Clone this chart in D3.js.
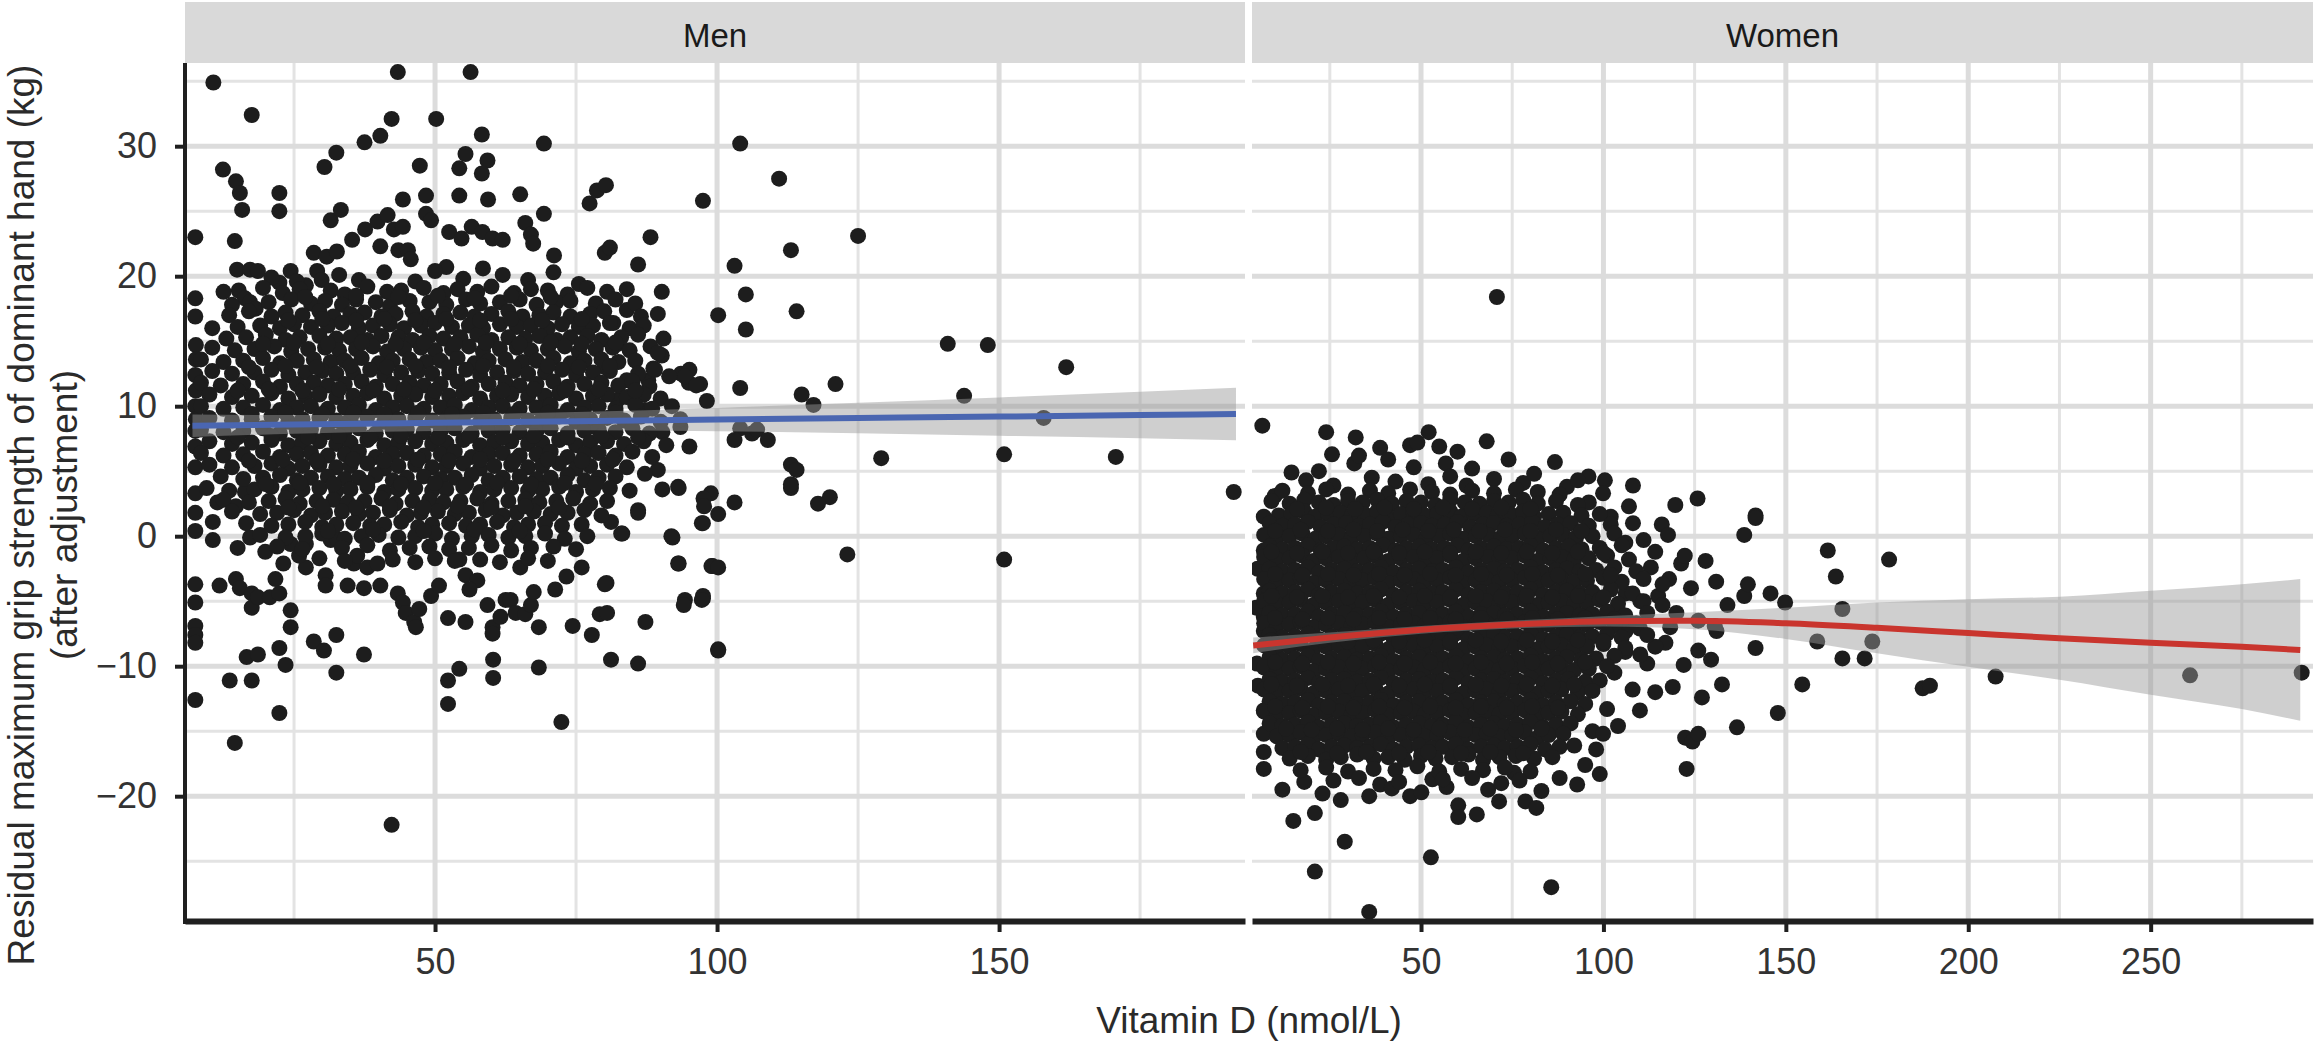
<html>
<head>
<script src="https://d3js.org/d3.v7.min.js"></script>
<style>
body { margin: 0; background: #fff; }
text { font-family: "Liberation Sans", Arial, Helvetica, sans-serif; }
</style>
</head>
<body>
<script>
// ---- data ----
const panelNames = ["Men", "Women"];
const menTicks = [50, 100, 150];
const menMinor = [25, 75, 125, 175];
const womenTicks = [50, 100, 150, 200, 250];
const womenMinor = [25, 75, 125, 175, 225, 275];
const yTicks = [-20, -10, 0, 10, 20, 30];
const yMinor = [-25, -15, -5, 5, 15, 25, 35];

// linear fit for men, with 95% band
const menFitX = [7, 25, 50, 75, 100, 125, 150, 175, 192];
const menFitY = [8.5, 8.6, 8.72, 8.85, 8.97, 9.09, 9.2, 9.32, 9.4];
const menLo = [7.64, 7.88, 8.09, 8.15, 8.07, 7.92, 7.73, 7.53, 7.38];
const menHi = [9.36, 9.32, 9.35, 9.55, 9.87, 10.26, 10.67, 11.11, 11.42];

// curved fit for women, with 95% band
const womenFitX = [4, 25, 50, 75, 100, 125, 150, 175, 200, 225, 250, 275, 291];
const womenFitY = [-8.4, -7.8, -7.2, -6.8, -6.55, -6.5, -6.7, -7.05, -7.45, -7.85, -8.2, -8.5, -8.75];
const womenLo = [-9.0, -8.2, -7.5, -7.1, -6.95, -7.15, -7.9, -9.0, -10.05, -11.05, -12.2, -13.3, -14.2];
const womenHi = [-7.8, -7.4, -6.9, -6.5, -6.15, -5.85, -5.5, -5.1, -4.85, -4.65, -4.2, -3.7, -3.3];

const menOutliers = [[104.1,30.2],[111,27.5],[97.5,25.8],[125,23.1],[113.1,22],[103.1,20.8],[105.1,18.6],[100.2,17],[114.1,17.3],[105.1,15.9],[140.9,14.8],[148,14.7],[161.9,13],[97,11.7],[104.1,11.4],[121,11.7],[115,10.9],[117.1,10.1],[98.2,10.4],[143.8,10.8],[157.9,9.1],[104.1,8.3],[103.1,7.4],[106.2,7.9],[107.1,8.2],[109,7.4],[129.1,6],[150.9,6.3],[170.7,6.1],[113.1,5.5],[114.1,5.1],[191.6,3.4],[98.9,3.3],[97.6,2.9],[103.1,2.6],[113.1,3.7],[120,3],[117.9,2.5],[100.2,1.7],[97.5,1],[123.1,-1.4],[150.9,-1.8],[99.2,-2.3],[97.5,-4.8],[100.2,-8.7],
[10.7,34.9],[43.4,35.7],[56.3,35.7],[17.5,32.4],[42.3,32.1],[50.2,32.1],[40.3,30.8],[37.5,30.3],[58.3,30.9],[69.3,30.2],[12.4,28.2],[32.5,29.5],[30.4,28.4],[47.3,28.5],[55.4,29.4],[54.3,28.3],[59.3,28.9],[58.3,27.9],[14.7,27.3],[15.4,26.4],[15.8,25.1],[22.4,26.4],[22.4,25],[44.3,25.9],[48.4,26.2],[54.3,26.2],[59.4,25.9],[65.1,26.3],[69.3,24.8],[77.4,25.6],[78.7,26.6],[80.3,27],[31.5,24.3],[33.3,25.1],[37.6,23.6],[39.8,24.2],[41.6,24.7],[42.7,23.6],[44.3,23.8],[40.3,22.3],[43.5,22],[48.4,24.8],[49.3,24.3],[52.5,23.4],[54.7,22.9],[56.5,23.8],[58.4,23.4],[60.2,22.9],[62,22.8],[66,24.1],[67,23.2],[67.4,22.5],[88.2,23],[71.1,21.6],[7.5,23],[14.5,22.7],[28.5,21.8],[30.8,21.5],[32.6,21.9],[35.3,22.8],[45.2,22],[45.7,21.3],[52,20.7],[80.1,21.8],[81,22.2],[86,20.9],[24.4,20.4],[27.1,19.3],[29.1,20.4],[29.9,19.7],[14.9,20.5],[17.2,20.5],[18.6,20.4],[7.5,18.3],[7.5,16.9],[10.5,16],[15.2,18.9],[16.3,18.3],[17.2,18],[18.2,17.5],[22.4,19.5],[90.2,18.8],[93.6,12.5],[95,11.8],
[88.2,14.6],[90.2,13.9],[87.8,12],[88.7,12.9],[95.1,12.8],[94.3,12.3],[96.3,11.6],[89.5,14.1],[84,17.4],[81.6,16.4],[82.4,14.8],[80.1,13],[84,12],[82.4,10.5],[87.2,9.7],[90.3,8],[93.5,8.4],[95.1,6.9],[89.5,5.1],[87.2,4.8],[90.3,3.6],[93.1,3.8],[86,2],[81.2,1.1],[83.2,0.2],[91.9,0],[93.1,-2.1],[99,-2.3],[80.4,-3.6],[97.5,-4.6],[94.3,-4.9],
[7.5,5.3],[7.5,3.3],[7.5,0.4],[7.5,-3.7],[7.5,-5.1],[7.5,-6.9],[7.5,-7.6],[7.5,-8.2],[7.5,-12.6],[7.6,14.7],[7.6,13.6],[7.5,12.4],[7.6,11.2],[7.5,10],[7.6,9],[7.5,8.1],[7.5,6.9],[7.5,1.8],
[10.6,1.1],[10.6,-0.3],[11.8,-3.8],[11.4,2.6],[13.6,-11.1],[14.5,-15.9],[14.7,2.3],[15,-0.9],[14.7,-3.3],[15.4,-4],[16.6,-9.3],[18.6,-9.1],[17.5,-11.1],[16.3,3.4],[17.2,-0.1],[17.5,-4.4],[17.5,-5.5],[18.6,-4.7],[19.9,-1.2],[20.7,-4.7],[21.7,-3.3],[22.4,-4.4],[23.1,-2.1],[24.4,-0.6],[22.4,-8.6],[23.5,-9.9],[22.4,-13.6],[24.4,-5.7],[24.4,-7],[27.1,-2.4],[27.1,-0.6],[25.9,-1.5],[28.5,-8.1],[30.3,-8.8],[32.5,-7.6],[32.5,-10.5],[30.6,-3],[30.6,-3.8],[31.5,-0.3],[32.6,-0.2],[34.5,-3.8],[35.6,-2.1],[37.4,-4],[37.4,-9.1],[40.3,-3.8],[36.2,-1.5],[38,-2.4],[39.8,-2.1],[42.3,-22.2],[43.4,-4.4],[44.3,-5.1],[44.8,-5.9],[46.3,-6.6],[46.6,-7],[47.2,-5.6],[49.3,-4.6],[50.7,-3.8],[52.3,-6.3],[52.3,-11.1],[52.3,-12.9],[54.3,-10.2],[55.4,-6.6],[55.4,-3],[57.5,-3.4],[56.1,-4.1],[54.3,-1.8],[59.3,-5.3],[60.2,-7],[60.3,-9.5],[60.3,-10.9],[60.2,-7.5],[61.6,-6.2],[62.5,-4.9],[63.4,-4.9],[64.3,-5.9],[65.1,-2.4],[66,-6],[67,-5.3],[67.5,-4.3],[68.4,-7],[68.4,-10.1],[71.3,-4.1],[73.3,-3.1],[72.4,-14.3],[74.4,-6.9],[76,-2.4],[77.8,-7.6],[79.2,-6],[80.1,-3.7],[80.5,-5.9],[81.2,-9.5],[83,0.2],[86,-9.8],[87.3,-6.6],[86,1.8],[92.1,-0.1],[93.2,-2.1],[94.1,-5.3],[97.3,-4.9],[97.3,1],[100.2,-2.4],[100.2,-8.8],[97.7,2.3],[93.2,3.7],[113.1,4]];

const menCloud = [[21,19.9],[25.5,19.6],[33,20.1],[36.5,19.7],[41,20.3],[46.5,19.6],[50,20.4],[55,19.8],[58.5,20.6],[62,20.1],[66.5,19.7],[71,20.3],[75.5,19.4],
[12.5,18.8],[19.5,19.1],[23,18.7],[26,19],[31.5,18.9],[34,18.6],[38,19.2],[41.5,18.8],[44,18.9],[48,19.1],[51.5,18.7],[54,19],[57.5,18.8],[60,19.2],[64,18.7],[67,19],[70,18.9],[73.5,18.6],[77,19.1],[80.5,18.8],[84,19],
[14,17.8],[20.5,18],[24.5,18.2],[28,17.9],[30.5,18.1],[33.5,17.8],[36,18.2],[39.5,18],[42,17.7],[45.5,18.1],[49,18],[52,17.8],[55.5,18.2],[58,17.9],[61.5,18],[65,18.2],[68,17.8],[71.5,18],[74,18.1],[78.5,17.9],[82,18.2],[85.5,17.9],
[13.5,17],[17,17.3],[21,16.9],[23.5,17.2],[26.5,17],[29.5,17.3],[32,16.9],[35,17.1],[37.5,17.2],[40.5,16.9],[43,17.1],[46,17.3],[48.5,16.9],[51.5,17.1],[54.5,17.2],[57,16.9],[60,17.1],[63,17.3],[65.5,16.9],[68.5,17],[71,17.2],[74,16.9],[77.5,17.1],[80,17.3],[86.5,16.9],[89.5,17.1],
[15,16.1],[19,16.2],[22.5,16],[25,16.3],[28,16.1],[31,16.2],[33.5,16.4],[36.5,16],[39,16.2],[42,16.3],[44.5,16],[47.5,16.2],[50,16.4],[53,16.1],[56,16.2],[58.5,16],[61.5,16.3],[64.5,16.1],[67,16.2],[70,16],[72.5,16.3],[75.5,16.1],[78,16.2],[81,16.4],[84.5,16],[87,16.2],
[13,15.2],[16.5,15.3],[20,15.5],[23.5,15.1],[26,15.3],[29.5,15.4],[32.5,15.2],[35,15.3],[38,15.1],[40.5,15.4],[43.5,15.3],[46,15.1],[49,15.4],[51.5,15.2],[54.5,15.3],[57.5,15.5],[60,15.1],[63,15.3],[66,15.2],[68.5,15.4],[71.5,15.1],[74,15.3],[77,15.4],[79.5,15.1],[83,15.3],[86,15.5],[90.5,15.2],
[10.5,14.5],[14.5,14.3],[18,14.4],[21.5,14.6],[24.5,14.2],[27.5,14.4],[30.5,14.5],[33,14.3],[36,14.4],[39,14.6],[41.5,14.2],[44.5,14.4],[47.5,14.5],[50,14.3],[53,14.4],[56,14.6],[58.5,14.2],[61.5,14.4],[64.5,14.5],[67,14.3],[70,14.4],[73,14.6],[75.5,14.2],[78.5,14.4],[81.5,14.5],[84.5,14.3],
[8.5,13.6],[12.5,13.4],[16,13.5],[19.5,13.7],[22.5,13.3],[25.5,13.5],[28.5,13.6],[31.5,13.4],[34,13.5],[37,13.7],[40,13.3],[42.5,13.5],[45.5,13.6],[48.5,13.4],[51,13.5],[54,13.7],[57,13.3],[59.5,13.5],[62.5,13.6],[65.5,13.4],[68,13.5],[71,13.7],[74,13.3],[76.5,13.5],[79.5,13.6],[82.5,13.4],[85.5,13.5],
[10.5,12.7],[14,12.5],[18,12.6],[21,12.8],[24,12.4],[27,12.6],[30,12.7],[32.5,12.5],[35.5,12.6],[38.5,12.8],[41,12.4],[44,12.6],[47,12.7],[49.5,12.5],[52.5,12.6],[55.5,12.8],[58,12.4],[61,12.6],[64,12.7],[66.5,12.5],[69.5,12.6],[72.5,12.8],[75,12.4],[78,12.6],[81,12.7],[86,12.5],[89,12.8],[91.5,12.3],
[8.5,11.8],[12,11.6],[16,11.7],[19.5,11.9],[22.5,11.5],[25.5,11.7],[28.5,11.8],[31,11.6],[34,11.7],[37,11.9],[39.5,11.5],[42.5,11.7],[45.5,11.8],[48,11.6],[51,11.7],[54,11.9],[56.5,11.5],[59.5,11.7],[62.5,11.8],[65,11.6],[68,11.7],[71,11.9],[73.5,11.5],[76.5,11.7],[79.5,11.8],[82.5,11.6],[85,11.9],[88,11.5],
[10,10.9],[14,10.7],[17.5,10.8],[21,11],[24,10.6],[27,10.8],[29.5,10.9],[32.5,10.7],[35.5,10.8],[38,11],[41,10.6],[44,10.8],[46.5,10.9],[49.5,10.7],[52.5,10.8],[55,11],[58,10.6],[61,10.8],[63.5,10.9],[66.5,10.7],[69.5,10.8],[72,11],[75,10.6],[78,10.8],[80.5,10.9],[84,10.7],[87,10.9],[90,10.6],
[8.5,10],[12.5,9.8],[16,9.9],[19.5,10.1],[22.5,9.7],[25.5,9.9],[28,10],[31,9.8],[34,9.9],[36.5,10.1],[39.5,9.7],[42.5,9.9],[45,10],[48,9.8],[51,9.9],[53.5,10.1],[56.5,9.7],[59.5,9.9],[62,10],[65,9.8],[68,9.9],[70.5,10.1],[73.5,9.7],[76.5,9.9],[79,10],[82,9.8],[85.5,10.1],[88.5,9.8],[92,10],
[10,9.1],[14,8.9],[17.5,9],[21,9.2],[24,8.8],[26.5,9],[29.5,9.1],[32.5,8.9],[35,9],[38,9.2],[41,8.8],[43.5,9],[46.5,9.1],[49.5,8.9],[52,9],[55,9.2],[58,8.8],[60.5,9],[63.5,9.1],[66.5,8.9],[69,9],[72,9.2],[75,8.8],[77.5,9],[80.5,9.1],[83.5,8.9],[86.5,9.2],[90,8.8],[93.5,9],
[8.5,8.2],[12.5,8],[16,8.1],[19.5,8.3],[22.5,7.9],[25.5,8.1],[28,8.2],[31,8],[34,8.1],[36.5,8.3],[39.5,7.9],[42.5,8.1],[45,8.2],[48,8],[51,8.1],[53.5,8.3],[56.5,7.9],[59.5,8.1],[62,8.2],[65,8],[68,8.1],[70.5,8.3],[73.5,7.9],[76.5,8.1],[79,8.2],[82,8],[85,8.3],[88,7.9],
[10,7.3],[14,7.1],[17.5,7.2],[21,7.4],[24,7],[26.5,7.2],[29.5,7.3],[32.5,7.1],[35,7.2],[38,7.4],[41,7],[43.5,7.2],[46.5,7.3],[49.5,7.1],[52,7.2],[55,7.4],[58,7],[60.5,7.2],[63.5,7.3],[66.5,7.1],[69,7.2],[72,7.4],[75,7],[77.5,7.2],[80.5,7.3],[83.5,7.1],[87,7.3],[91,7],
[8.5,6.4],[12.5,6.2],[16,6.3],[19.5,6.5],[22.5,6.1],[25.5,6.3],[28,6.4],[31,6.2],[34,6.3],[36.5,6.5],[39.5,6.1],[42.5,6.3],[45,6.4],[48,6.2],[51,6.3],[53.5,6.5],[56.5,6.1],[59.5,6.3],[62,6.4],[65,6.2],[68,6.3],[70.5,6.5],[73.5,6.1],[76.5,6.3],[79,6.4],[82,6.2],[85,6.5],[88.5,6.1],
[10,5.5],[14,5.3],[18,5.4],[21,5.6],[24,5.2],[26.5,5.4],[29.5,5.5],[32.5,5.3],[35,5.4],[38,5.6],[41,5.2],[43.5,5.4],[46.5,5.5],[49.5,5.3],[52,5.4],[55,5.6],[58,5.2],[60.5,5.4],[63.5,5.5],[66.5,5.3],[69,5.4],[72,5.6],[75,5.2],[77.5,5.4],[80.5,5.5],[84,5.3],
[12,4.6],[16,4.4],[19.5,4.5],[22.5,4.7],[25.5,4.3],[28,4.5],[31,4.6],[34,4.4],[36.5,4.5],[39.5,4.7],[42.5,4.3],[45,4.5],[48,4.6],[51,4.4],[53.5,4.5],[56.5,4.7],[59.5,4.3],[62,4.5],[65,4.6],[68,4.4],[70.5,4.5],[73.5,4.7],[76.5,4.3],[79,4.5],[82,4.6],
[9.5,3.7],[13.5,3.5],[18,3.6],[21,3.8],[24,3.4],[26.5,3.6],[29.5,3.7],[32.5,3.5],[35,3.6],[38,3.8],[41,3.4],[43.5,3.6],[46.5,3.7],[49.5,3.5],[52,3.6],[55,3.8],[58,3.4],[60.5,3.6],[63.5,3.7],[66.5,3.5],[69,3.6],[72,3.8],[75,3.4],[78,3.6],[81,3.7],[84.5,3.5],
[12.5,2.8],[17,2.6],[20.5,2.7],[23.5,2.9],[26,2.5],[29,2.7],[32,2.8],[34.5,2.6],[37.5,2.7],[40.5,2.9],[43,2.5],[46,2.7],[49,2.8],[51.5,2.6],[54.5,2.7],[57.5,2.9],[60,2.5],[63,2.7],[66,2.8],[68.5,2.6],[71.5,2.7],[74.5,2.9],[77.5,2.5],[80.5,2.7],
[14,1.9],[19,1.7],[22,1.8],[25,2],[28,1.6],[30.5,1.8],[33.5,1.9],[36.5,1.7],[39,1.8],[42,2],[45,1.6],[47.5,1.8],[50.5,1.9],[53.5,1.7],[56,1.8],[59,2],[62,1.6],[64.5,1.8],[67.5,1.9],[70.5,1.7],[73.5,1.8],[76.5,2],[79.5,1.6],
[16.5,1],[21,0.8],[24,0.9],[27,1.1],[30,0.7],[32.5,0.9],[35.5,1],[38.5,0.8],[41,0.9],[44,1.1],[47,0.7],[49.5,0.9],[52.5,1],[55.5,0.8],[58,0.9],[61,1.1],[64,0.7],[66.5,0.9],[69.5,1],[72.5,0.8],[76,0.9],
[19,0.1],[23.5,-0.1],[27,0],[30,0.2],[34,-0.2],[37,0],[40,0.1],[43.5,-0.1],[46.5,0],[50,0.2],[53,-0.2],[56.5,0],[59.5,0.1],[63,-0.1],[66,0],[69.5,0.2],[73,-0.2],[77,0],
[22,-0.8],[26.5,-1],[33.5,-0.9],[38,-0.7],[42,-1.1],[45.5,-0.9],[49,-0.8],[52.5,-1],[56,-0.9],[60,-0.7],[63.5,-1.1],[67,-0.9],[71,-0.8],[75,-1],
[29.5,-1.7],[34,-1.9],[42.5,-1.8],[46.5,-2],[50,-1.7],[53.5,-1.9],[58,-1.8],[61.5,-2],[66.5,-1.7],[70,-1.9]];

// extra points where the men's cloud is solid black
const menFill = [[27,18.4],[36,18.5],[43.5,18.4],[50.5,18.5],[57,18.3],[63.5,18.5],[70.5,18.4],
[24,16.6],[30,16.7],[36,16.6],[41,16.7],[46.5,16.6],[52,16.7],[58,16.6],[63.5,16.7],[69,16.6],[76,16.7],
[19.5,14.8],[25,14.9],[31,14.8],[37,14.9],[43,14.8],[48,14.9],[53.5,14.8],[59,14.9],[65,14.8],[70.5,14.9],[76,14.8],[82,14.9],
[17,13],[23.5,13.1],[29,13],[35,13.1],[41.5,13],[46.5,13.1],[52.5,13],[58.5,13.1],[64,13],[70,13.1],[75.5,13],[81,13.1],
[15,11.2],[20.5,11.3],[26.5,11.2],[33,11.3],[39,11.2],[44.5,11.3],[50,11.2],[56,11.3],[62,11.2],[67.5,11.3],[73,11.2],[79,11.3],[85.5,11.2],
[17.5,9.4],[23.5,9.5],[30,9.4],[35.5,9.5],[41,9.4],[47,9.5],[53,9.4],[58.5,9.5],[64,9.4],[70,9.5],[76,9.4],[82,9.5],
[15,7.6],[21,7.7],[27.5,7.6],[33,7.7],[38.5,7.6],[44,7.7],[50.5,7.6],[56,7.7],[62,7.6],[67.5,7.7],[73.5,7.6],[79.5,7.7],[86,7.6],
[17,5.8],[23,5.9],[29,5.8],[35.5,5.9],[41,5.8],[47,5.9],[52.5,5.8],[58,5.9],[64,5.8],[70,5.9],[76,5.8],[81.5,5.9],
[20,4],[26,4.1],[32,4],[38,4.1],[44,4],[50,4.1],[55.5,4],[61,4.1],[67,4],[73,4.1],[78.5,4],
[24,2.2],[30,2.3],[36,2.2],[42,2.3],[48,2.2],[54,2.3],[60,2.2],[66,2.3],[72,2.2],
[31,0.4],[39,0.5],[48,0.4],[57,0.5],[65,0.4]];

const womenOutliers = [[70.8,18.4],[6.5,8.5],[24,8],[32.1,7.6],[52.1,8],[68,7.3],[86.7,5.7],[38.8,6.8],[47,7],[49,7.2],[25.6,6.3],[31.7,5.6],[56.8,5.6],[95.9,4.6],[100.4,4.3],[108.1,3.9],[119.7,2.4],[125.8,2.9],[141.7,1.6],
[18.5,4.3],[26,3.9],[36.5,4.5],[43,4.2],[52,4],[58,4.6],[62.5,3.9],[70,4.4],[78,4.1],[81,4.8],[90,3.8],[93,4.3],[48,5.3],[64,5.2],[74,5.9],[41,5.9],[33,6.2],[60,6.5],[55,6.9],[22,5],[14.5,4.9],[9.9,3.1],
[6.9,1.5],[6.9,-1.1],[6.9,-4.4],[6.9,-6.2],[6.9,-7.3],[6.9,-13.4],[6.9,-15.2],[6.9,-16.6],[6.9,-17.9],[5.2,-2.5],[5,-9.8],[5.3,-11.5],[4.8,-5.5],
[102,-2.8],[104,-5.7],[106,-8.9],[103,-10.5],[108,-11.8],[112,-9.8],[110,-7.1],[115,-4.6],[113,-2.4],[118,-3.3],[120,-5.9],[117,-8.2],[122,-9.9],[119,-11.6],[124,-4],[126,-6.5],[128,-1.9],[131,-7.3],[127,-12.4],[134,-5.3],[101,-13.3],[104,-14.6],[98,-16.4],[95,-17.6],[92,-16.1],[99,-18.3],[97,-15],[106,-0.5],[111,-0.3],[116,0.9],[102,1.5],[107,2.3],[96,2.6],
[15,-21.9],[20.9,-21.3],[20.9,-25.8],[29.1,-23.5],[35.8,-28.9],[35.8,-20],[38.8,-19.1],[52.7,-24.7],[47,-20],[50.1,-19.7],[53.1,-18.7],[60.2,-20.7],[60.2,-21.6],[65.3,-21.4],[68.4,-19.5],[71.4,-20.4],[75.5,-18.2],[78.6,-20.4],[81.6,-20.9],[85.7,-27],[92.8,-19.1],[99.9,-15.2],[110,-13.4],[114.2,-12],[122.4,-15.5],[124.4,-15.8],[126,-15.2],[122.8,-17.9],[136.6,-14.7],[147.8,-13.6],[154.5,-11.4],[132.5,-11.4],[126,-8.8],[129.5,-9.5],[141.7,-8.6],[158.6,-8.1],[165.5,-9.4],[171.6,-9.4],[173.7,-8.1],[165.5,-5.6],[187.5,-11.7],[189.5,-11.5],[207.5,-10.8],[260.8,-10.7],[291.4,-10.5],[130.5,-6.9],[130.9,-3.5],[138.6,-4.6],[139.6,-3.7],[145.8,-4.4],[149.8,-5.1],[161.5,-1.1],[163.7,-3.1],[178.3,-1.8],[138.6,0.1],[141.7,1.4],[108.1,1],[99.9,3.3],[117.7,0.1],[121.3,-2.1],[122.3,-1.5],[114.2,-1.2],[106.1,-4.4],[106.1,-7.3],[110.1,-5],[116.2,-3.7],[116.2,-5.3],[118.3,-7],[110.1,-9.1],[114.2,-8.5],
[12,-19.5],[18,-18.9],[23,-19.8],[28,-20.3],[42,-19.4],[57,-19.3],[72,-19],[83,-19.6],[88,-18.6]];

const womenCloud = [[12,3.5],[19,3.3],[24,3.6],[30,3.2],[36,3.5],[41,3.3],[47,3.6],[53,3.4],[58,3.2],[64,3.5],[70,3.3],[76,3.6],[82,3.4],[88,3.2],
[9,2.7],[14,2.5],[18,2.8],[22,2.6],[26,2.4],[30,2.7],[34,2.6],[38,2.8],[42,2.5],[46,2.7],[50,2.6],[54,2.4],[58,2.8],[62,2.6],[66,2.5],[70,2.7],[74,2.6],[78,2.8],[82,2.5],[87,2.7],[93,2.4],
[11,1.6],[14.5,1.7],[18,1.9],[21,1.5],[24.5,1.7],[28,1.8],[31,1.6],[34.5,1.7],[38,1.9],[41,1.5],[44.5,1.7],[48,1.8],[51,1.6],[54.5,1.7],[58,1.9],[61,1.5],[64.5,1.7],[68,1.8],[71,1.6],[74.5,1.7],[78,1.9],[81,1.5],[85,1.7],[89,1.8],[94,1.6],[99,1.7],
[8.5,1],[12,0.8],[15.5,0.9],[19,1.1],[22.5,0.7],[26,0.9],[29.5,1],[33,0.8],[36,0.9],[39.5,1.1],[43,0.7],[46.5,0.9],[50,1],[53,0.8],[56.5,0.9],[60,1.1],[63.5,0.7],[67,0.9],[70,1],[73.5,0.8],[77,0.9],[80.5,1.1],[84,0.7],[87.5,0.9],[91,1],[96,0.8],[102,0.9],
[7,0.1],[10.5,-0.1],[14,0],[17.5,0.2],[21,-0.2],[24,0],[27.5,0.1],[31,-0.1],[34.5,0],[38,0.2],[41,-0.2],[44.5,0],[48,0.1],[51.5,-0.1],[55,0],[58,0.2],[61.5,-0.2],[65,0],[68.5,0.1],[72,-0.1],[75,0],[78.5,0.2],[82,-0.2],[85.5,0],[89,0.1],[92.5,-0.1],[97,0],[103,0.2],
[8.5,-0.8],[12,-1],[15.5,-0.9],[19,-0.7],[22.5,-1.1],[26,-0.9],[29,-0.8],[32.5,-1],[36,-0.9],[39.5,-0.7],[43,-1.1],[46,-0.9],[49.5,-0.8],[53,-1],[56.5,-0.9],[60,-0.7],[63,-1.1],[66.5,-0.9],[70,-0.8],[73.5,-1],[77,-0.9],[80,-0.7],[83.5,-1.1],[87,-0.9],[90.5,-0.8],[94,-1],[99,-0.9],[105,-0.7],
[7,-1.6],[10.5,-1.8],[14,-1.7],[17.5,-1.5],[20.5,-1.9],[24,-1.7],[27.5,-1.6],[31,-1.8],[34.5,-1.7],[37.5,-1.5],[41,-1.9],[44.5,-1.7],[48,-1.6],[51.5,-1.8],[54.5,-1.7],[58,-1.5],[61.5,-1.9],[65,-1.7],[68.5,-1.6],[71.5,-1.8],[75,-1.7],[78.5,-1.5],[82,-1.9],[85.5,-1.7],[88.5,-1.6],[92,-1.8],[96,-1.7],[101,-1.5],[107,-1.8],
[8.5,-2.5],[12,-2.7],[15.5,-2.6],[19,-2.4],[22,-2.8],[25.5,-2.6],[29,-2.5],[32.5,-2.7],[36,-2.6],[39,-2.4],[42.5,-2.8],[46,-2.6],[49.5,-2.5],[53,-2.7],[56,-2.6],[59.5,-2.4],[63,-2.8],[66.5,-2.6],[70,-2.5],[73,-2.7],[76.5,-2.6],[80,-2.4],[83.5,-2.8],[87,-2.6],[90,-2.5],[93.5,-2.7],[98,-2.6],[103,-2.4],[109,-2.7],
[7,-3.3],[10.5,-3.5],[14,-3.4],[17,-3.2],[20.5,-3.6],[24,-3.4],[27.5,-3.3],[31,-3.5],[34,-3.4],[37.5,-3.2],[41,-3.6],[44.5,-3.4],[48,-3.3],[51,-3.5],[54.5,-3.4],[58,-3.2],[61.5,-3.6],[65,-3.4],[68,-3.3],[71.5,-3.5],[75,-3.4],[78.5,-3.2],[82,-3.6],[85,-3.4],[88.5,-3.3],[92,-3.5],[95.5,-3.4],[100,-3.2],[105,-3.5],[111,-3.3],
[8.5,-4.2],[12,-4.4],[15.5,-4.3],[19,-4.1],[22,-4.5],[25.5,-4.3],[29,-4.2],[32.5,-4.4],[36,-4.3],[39,-4.1],[42.5,-4.5],[46,-4.3],[49.5,-4.2],[53,-4.4],[56,-4.3],[59.5,-4.1],[63,-4.5],[66.5,-4.3],[70,-4.2],[73,-4.4],[76.5,-4.3],[80,-4.1],[83.5,-4.5],[87,-4.3],[90,-4.2],[93.5,-4.4],[97,-4.3],[102,-4.1],[108,-4.4],
[7,-5],[10.5,-5.2],[14,-5.1],[17,-4.9],[20.5,-5.3],[24,-5.1],[27.5,-5],[31,-5.2],[34,-5.1],[37.5,-4.9],[41,-5.3],[44.5,-5.1],[48,-5],[51,-5.2],[54.5,-5.1],[58,-4.9],[61.5,-5.3],[65,-5.1],[68,-5],[71.5,-5.2],[75,-5.1],[78.5,-4.9],[82,-5.3],[85,-5.1],[88.5,-5],[92,-5.2],[95.5,-5.1],[99,-4.9],[104,-5.2],[111,-5],
[8.5,-5.9],[12,-6.1],[15.5,-6],[19,-5.8],[22,-6.2],[25.5,-6],[29,-5.9],[32.5,-6.1],[36,-6],[39,-5.8],[42.5,-6.2],[46,-6],[49.5,-5.9],[53,-6.1],[56,-6],[59.5,-5.8],[63,-6.2],[66.5,-6],[70,-5.9],[73,-6.1],[76.5,-6],[80,-5.8],[83.5,-6.2],[87,-6],[90,-5.9],[93.5,-6.1],[97,-6],[101,-5.8],[106,-6.1],[112,-5.9],
[7,-6.7],[10.5,-6.9],[14,-6.8],[17,-6.6],[20.5,-7],[24,-6.8],[27.5,-6.7],[31,-6.9],[34,-6.8],[37.5,-6.6],[41,-7],[44.5,-6.8],[48,-6.7],[51,-6.9],[54.5,-6.8],[58,-6.6],[61.5,-7],[65,-6.8],[68,-6.7],[71.5,-6.9],[75,-6.8],[78.5,-6.6],[82,-7],[85,-6.8],[88.5,-6.7],[92,-6.9],[95.5,-6.8],[99,-6.6],[103,-6.9],[109,-6.7],
[8.5,-7.6],[12,-7.8],[15.5,-7.7],[19,-7.5],[22,-7.9],[25.5,-7.7],[29,-7.6],[32.5,-7.8],[36,-7.7],[39,-7.5],[42.5,-7.9],[46,-7.7],[49.5,-7.6],[53,-7.8],[56,-7.7],[59.5,-7.5],[63,-7.9],[66.5,-7.7],[70,-7.6],[73,-7.8],[76.5,-7.7],[80,-7.5],[83.5,-7.9],[87,-7.7],[90,-7.6],[93.5,-7.8],[97,-7.7],[101,-7.5],[105,-7.8],[112,-7.6],
[7,-8.4],[10.5,-8.6],[14,-8.5],[17,-8.3],[20.5,-8.7],[24,-8.5],[27.5,-8.4],[31,-8.6],[34,-8.5],[37.5,-8.3],[41,-8.7],[44.5,-8.5],[48,-8.4],[51,-8.6],[54.5,-8.5],[58,-8.3],[61.5,-8.7],[65,-8.5],[68,-8.4],[71.5,-8.6],[75,-8.5],[78.5,-8.3],[82,-8.7],[85,-8.5],[88.5,-8.4],[92,-8.6],[95.5,-8.5],[100,-8.3],[106,-8.6],
[8.5,-9.3],[12,-9.5],[15.5,-9.4],[19,-9.2],[22,-9.6],[25.5,-9.4],[29,-9.3],[32.5,-9.5],[36,-9.4],[39,-9.2],[42.5,-9.6],[46,-9.4],[49.5,-9.3],[53,-9.5],[56,-9.4],[59.5,-9.2],[63,-9.6],[66.5,-9.4],[70,-9.3],[73,-9.5],[76.5,-9.4],[80,-9.2],[83.5,-9.6],[87,-9.4],[90,-9.3],[94,-9.5],[98,-9.4],[103,-9.2],
[7,-10.1],[10.5,-10.3],[14,-10.2],[17,-10],[20.5,-10.4],[24,-10.2],[27.5,-10.1],[31,-10.3],[34,-10.2],[37.5,-10],[41,-10.4],[44.5,-10.2],[48,-10.1],[51,-10.3],[54.5,-10.2],[58,-10],[61.5,-10.4],[65,-10.2],[68,-10.1],[71.5,-10.3],[75,-10.2],[78.5,-10],[82,-10.4],[85,-10.2],[88.5,-10.1],[92,-10.3],[96,-10.2],[101,-10],
[8.5,-11],[12,-11.2],[15.5,-11.1],[19,-10.9],[22,-11.3],[25.5,-11.1],[29,-11],[32.5,-11.2],[36,-11.1],[39,-10.9],[42.5,-11.3],[46,-11.1],[49.5,-11],[53,-11.2],[56,-11.1],[59.5,-10.9],[63,-11.3],[66.5,-11.1],[70,-11],[73,-11.2],[76.5,-11.1],[80,-10.9],[83.5,-11.3],[87,-11.1],[90.5,-11],[95,-11.2],[99,-11.1],
[7,-11.8],[10.5,-12],[14,-11.9],[17,-11.7],[20.5,-12.1],[24,-11.9],[27.5,-11.8],[31,-12],[34,-11.9],[37.5,-11.7],[41,-12.1],[44.5,-11.9],[48,-11.8],[51,-12],[54.5,-11.9],[58,-11.7],[61.5,-12.1],[65,-11.9],[68,-11.8],[71.5,-12],[75,-11.9],[78.5,-11.7],[82,-12.1],[85,-11.9],[88.5,-11.8],[93,-12],[97,-11.9],
[8.5,-12.7],[12,-12.9],[15.5,-12.8],[19,-12.6],[22,-13],[25.5,-12.8],[29,-12.7],[32.5,-12.9],[36,-12.8],[39,-12.6],[42.5,-13],[46,-12.8],[49.5,-12.7],[53,-12.9],[56,-12.8],[59.5,-12.6],[63,-13],[66.5,-12.8],[70,-12.7],[73,-12.9],[76.5,-12.8],[80,-12.6],[83.5,-13],[87,-12.8],[91,-12.7],[95,-12.9],
[7,-13.5],[10.5,-13.7],[14,-13.6],[17,-13.4],[20.5,-13.8],[24,-13.6],[27.5,-13.5],[31,-13.7],[34,-13.6],[37.5,-13.4],[41,-13.8],[44.5,-13.6],[48,-13.5],[51,-13.7],[54.5,-13.6],[58,-13.4],[61.5,-13.8],[65,-13.6],[68,-13.5],[71.5,-13.7],[75,-13.6],[78.5,-13.4],[82,-13.8],[85,-13.6],[88.5,-13.5],[93,-13.7],
[8.5,-14.4],[12,-14.6],[15.5,-14.5],[19,-14.3],[22,-14.7],[25.5,-14.5],[29,-14.4],[32.5,-14.6],[36,-14.5],[39,-14.3],[42.5,-14.7],[46,-14.5],[49.5,-14.4],[53,-14.6],[56,-14.5],[59.5,-14.3],[63,-14.7],[66.5,-14.5],[70,-14.4],[73,-14.6],[76.5,-14.5],[80,-14.3],[83.5,-14.7],[87,-14.5],[91,-14.4],
[10.5,-15.4],[14,-15.3],[17,-15.1],[20.5,-15.5],[24,-15.3],[27.5,-15.2],[31,-15.4],[34,-15.3],[37.5,-15.1],[41,-15.5],[44.5,-15.3],[48,-15.2],[51,-15.4],[54.5,-15.3],[58,-15.1],[61.5,-15.5],[65,-15.3],[68,-15.2],[71.5,-15.4],[75,-15.3],[78.5,-15.1],[82,-15.5],[85,-15.3],[89,-15.2],
[12,-16.3],[15.5,-16.2],[19,-16],[22,-16.4],[25.5,-16.2],[29,-16.1],[32.5,-16.3],[36,-16.2],[39,-16],[42.5,-16.4],[46,-16.2],[49.5,-16.1],[53,-16.3],[56,-16.2],[59.5,-16],[63,-16.4],[66.5,-16.2],[70,-16.1],[73,-16.3],[76.5,-16.2],[80,-16],[84,-16.4],[88,-16.2],
[14,-17.1],[19,-16.9],[24,-17.2],[28,-17],[32.5,-16.8],[37,-17.1],[41,-17],[45.5,-17.2],[50,-16.9],[54,-17.1],[58.5,-17],[63,-16.8],[67,-17.2],[71.5,-17],[76,-16.9],[81,-17.1],[86,-17],
[17,-18],[24,-17.8],[30,-18.1],[37,-17.9],[43,-18],[49,-17.7],[55,-18.1],[61,-17.9],[67,-18],[73,-17.8],[80,-18.1],
[26,-18.8],[33,-18.6],[44,-18.9],[56,-18.7],[64,-18.6],[77,-18.8]];

// extra points where the women's cloud is solid black
const womenFill = [[16,2.1],[24,2.2],[32,2.1],[40,2.2],[48,2.1],[56,2.2],[64,2.1],[72,2.2],[80,2.1],
[10,0.4],[17,0.5],[24.5,0.4],[31.5,0.5],[38,0.4],[45,0.5],[52,0.4],[59,0.5],[66,0.4],[73,0.5],[80,0.4],[87,0.5],[94,0.4],
[9,-1.2],[16,-1.3],[23,-1.2],[30,-1.3],[37,-1.2],[44,-1.3],[51,-1.2],[58,-1.3],[65,-1.2],[72,-1.3],[79,-1.2],[86,-1.3],[93,-1.2],[100,-1.3],
[10,-2.9],[17.5,-3],[24.5,-2.9],[31.5,-3],[38.5,-2.9],[45.5,-3],[52.5,-2.9],[59.5,-3],[66.5,-2.9],[73.5,-3],[80.5,-2.9],[87.5,-3],[95,-2.9],[102,-3],
[9,-4.6],[16,-4.7],[23,-4.6],[30,-4.7],[37,-4.6],[44,-4.7],[51,-4.6],[58,-4.7],[65,-4.6],[72,-4.7],[79,-4.6],[86,-4.7],[93,-4.6],[100,-4.7],
[10,-6.3],[17.5,-6.4],[24.5,-6.3],[31.5,-6.4],[38.5,-6.3],[45.5,-6.4],[52.5,-6.3],[59.5,-6.4],[66.5,-6.3],[73.5,-6.4],[80.5,-6.3],[87.5,-6.4],[95,-6.3],[103,-6.4],
[9,-8],[16,-8.1],[23,-8],[30,-8.1],[37,-8],[44,-8.1],[51,-8],[58,-8.1],[65,-8],[72,-8.1],[79,-8],[86,-8.1],[93,-8],[100,-8.1],
[10,-9.7],[17.5,-9.8],[24.5,-9.7],[31.5,-9.8],[38.5,-9.7],[45.5,-9.8],[52.5,-9.7],[59.5,-9.8],[66.5,-9.7],[73.5,-9.8],[80.5,-9.7],[87.5,-9.8],[95,-9.7],
[9,-11.4],[16,-11.5],[23,-11.4],[30,-11.5],[37,-11.4],[44,-11.5],[51,-11.4],[58,-11.5],[65,-11.4],[72,-11.5],[79,-11.4],[86,-11.5],[92,-11.4],
[10,-13.1],[17.5,-13.2],[24.5,-13.1],[31.5,-13.2],[38.5,-13.1],[45.5,-13.2],[52.5,-13.1],[59.5,-13.2],[66.5,-13.1],[73.5,-13.2],[80.5,-13.1],[87.5,-13.2],
[13,-14.8],[20,-14.9],[27,-14.8],[34,-14.9],[41,-14.8],[48,-14.9],[55,-14.8],[62,-14.9],[69,-14.8],[76,-14.9],[83,-14.8],
[17,-16.6],[27,-16.7],[35,-16.6],[44,-16.7],[52,-16.6],[61,-16.7],[69,-16.6],[78,-16.7]];

// ---- layout ----
const width = 2315, height = 1043;
const panelTop = 63, panelBottom = 921, stripTop = 2;
const pointR = 8;
const panels = [
    {name: panelNames[0], x0: 185, x1: 1245, domain: [5.67, 193.6], ticks: menTicks, minor: menMinor,
     points: menOutliers.concat(menCloud, menFill), fx: menFitX, fy: menFitY, lo: menLo, hi: menHi, color: "#4a66b1"},
    {name: panelNames[1], x0: 1252, x1: 2313, domain: [3.67, 294.5], ticks: womenTicks, minor: womenMinor,
     points: womenOutliers.concat(womenCloud, womenFill), fx: womenFitX, fy: womenFitY, lo: womenLo, hi: womenHi, color: "#c9352e"}
];

let svg = d3.select("body").append("svg")
    .attr("width", width).attr("height", height)
    .attr("viewBox", [0, 0, width, height]);

let y = d3.scaleLinear().domain([-29.6, 36.4]).range([panelBottom, panelTop]);

panels.forEach(function(p, i) {
    let x = d3.scaleLinear().domain(p.domain).range([p.x0, p.x1]);
    let g = svg.append("g");

    // strip
    g.append("rect")
        .attr("x", p.x0).attr("y", stripTop)
        .attr("width", p.x1 - p.x0).attr("height", panelTop - stripTop)
        .attr("fill", "#d9d9d9");
    g.append("text")
        .attr("x", (p.x0 + p.x1) / 2).attr("y", 47)
        .attr("text-anchor", "middle")
        .attr("font-size", "33px")
        .attr("fill", "#1a1a1a")
        .text(p.name);

    // grid
    let grid = g.append("g");
    grid.selectAll(".hmin").data(yMinor).enter().append("line")
        .attr("x1", p.x0).attr("x2", p.x1)
        .attr("y1", d => y(d)).attr("y2", d => y(d))
        .attr("stroke", "#e3e3e3").attr("stroke-width", 3);
    grid.selectAll(".vmin").data(p.minor).enter().append("line")
        .attr("x1", d => x(d)).attr("x2", d => x(d))
        .attr("y1", panelTop).attr("y2", panelBottom)
        .attr("stroke", "#e3e3e3").attr("stroke-width", 3);
    grid.selectAll(".hmaj").data(yTicks).enter().append("line")
        .attr("x1", p.x0).attr("x2", p.x1)
        .attr("y1", d => y(d)).attr("y2", d => y(d))
        .attr("stroke", "#dcdcdc").attr("stroke-width", 5);
    grid.selectAll(".vmaj").data(p.ticks).enter().append("line")
        .attr("x1", d => x(d)).attr("x2", d => x(d))
        .attr("y1", panelTop).attr("y2", panelBottom)
        .attr("stroke", "#dcdcdc").attr("stroke-width", 5);

    // clip to panel
    let clipId = "clip" + i;
    svg.append("clipPath").attr("id", clipId)
        .append("rect").attr("x", p.x0).attr("y", panelTop)
        .attr("width", p.x1 - p.x0).attr("height", panelBottom - panelTop);
    let plot = g.append("g").attr("clip-path", "url(#" + clipId + ")");

    plot.selectAll("circle").data(p.points).enter().append("circle")
        .attr("cx", d => x(d[0]))
        .attr("cy", d => y(d[1]))
        .attr("r", pointR)
        .attr("fill", "#1d1d1d");

    let idx = d3.range(p.fx.length);
    let band = d3.area()
        .x(j => x(p.fx[j]))
        .y0(j => y(p.lo[j]))
        .y1(j => y(p.hi[j]))
        .curve(d3.curveMonotoneX);
    plot.append("path").datum(idx)
        .attr("d", band)
        .attr("fill", "#999999")
        .attr("fill-opacity", 0.47);
    let line = d3.line()
        .x(j => x(p.fx[j]))
        .y(j => y(p.fy[j]))
        .curve(d3.curveMonotoneX);
    plot.append("path").datum(idx)
        .attr("d", line)
        .attr("fill", "none")
        .attr("stroke", p.color)
        .attr("stroke-width", 6);

    // x axis
    let xAxis = g.append("g")
        .attr("transform", "translate(0," + panelBottom + ")")
        .call(d3.axisBottom(x).tickValues(p.ticks).tickSize(11).tickPadding(16).tickSizeOuter(0));
    xAxis.select(".domain").attr("stroke", "#1f1f1f").attr("stroke-width", 6);
    xAxis.selectAll(".tick line").attr("stroke", "#1f1f1f").attr("stroke-width", 4);
    xAxis.selectAll(".tick text")
        .attr("font-size", "36px")
        .attr("font-family", "Liberation Sans, Arial, sans-serif")
        .attr("fill", "#333");

    if (i == 0) {
        let yAxis = g.append("g")
            .attr("transform", "translate(" + p.x0 + ",0)")
            .call(d3.axisLeft(y).tickValues(yTicks).tickSize(10).tickPadding(18).tickSizeOuter(0)
                .tickFormat(d => d < 0 ? "\u2212" + Math.abs(d) : d));
        yAxis.select(".domain").attr("stroke", "#1f1f1f").attr("stroke-width", 4)
            .attr("d", "M0," + panelTop + "V" + (panelBottom + 3));
        yAxis.selectAll(".tick line").attr("stroke", "#1f1f1f").attr("stroke-width", 4);
        yAxis.selectAll(".tick text")
            .attr("font-size", "36px")
            .attr("font-family", "Liberation Sans, Arial, sans-serif")
            .attr("fill", "#333");
    }
});

// axis titles
svg.append("text")
    .attr("x", 1249).attr("y", 1033)
    .attr("text-anchor", "middle")
    .attr("font-size", "37px")
    .attr("fill", "#2a2a2a")
    .text("Vitamin D (nmol/L)");

let yTitle = svg.append("g").attr("font-size", "37px").attr("fill", "#2a2a2a");
yTitle.append("text")
    .attr("transform", "translate(34,515) rotate(-90)")
    .attr("text-anchor", "middle")
    .text("Residual maximum grip strength of dominant hand (kg)");
yTitle.append("text")
    .attr("transform", "translate(77,515) rotate(-90)")
    .attr("text-anchor", "middle")
    .text("(after adjustment)");
</script>
</body>
</html>
